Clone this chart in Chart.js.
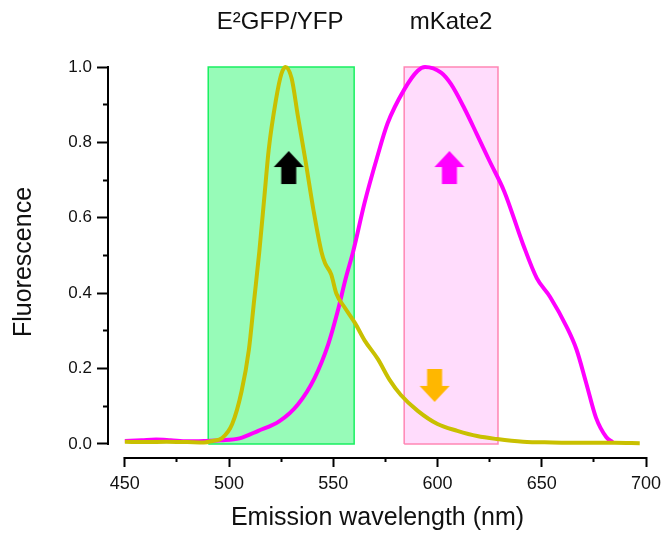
<!DOCTYPE html>
<html>
<head>
<meta charset="utf-8">
<script src="https://cdn.jsdelivr.net/npm/chart.js@4/dist/chart.umd.min.js"></script>
<style>
html,body{margin:0;padding:0;background:#fff;}
#wrap{width:663px;height:536px;position:relative;}
</style>
</head>
<body>
<div id="wrap"><canvas id="c" width="663" height="536"></canvas></div>
<script>
// ---- data ----
const yfpWavelength = [450,460,470,480,488,492,496.7,501.5,506,509.5,512,514.5,517,519,522.4,525,527,530,533,536.7,540.5,544.3,546,549,551.4,555.7,560.5,565,571.4,577,582.4,590.5,600,609.5,619,628.6,641,655,670,685,697];
const yfpValues     = [0.006,0.005,0.006,0.005,0.004,0.008,0.016,0.053,0.14,0.25,0.38,0.51,0.66,0.78,0.91,0.98,1.0,0.97,0.87,0.75,0.62,0.51,0.48,0.45,0.40,0.36,0.32,0.275,0.225,0.17,0.13,0.088,0.053,0.035,0.021,0.013,0.006,0.004,0.003,0.003,0.002];

const mkateWavelength = [450,458,465,472,480,488,496,505,514,524,533,541,547.6,552,556,559.5,565,571,576,584,590.5,594,601.7,606.4,612.9,619,625,632,641,647.6,654,662,666.7,671.4,676,681,684];
const mkateValues     = [0.008,0.01,0.012,0.01,0.007,0.008,0.01,0.015,0.035,0.06,0.105,0.175,0.265,0.35,0.44,0.51,0.64,0.76,0.85,0.94,0.99,1.0,0.985,0.955,0.89,0.82,0.75,0.67,0.53,0.44,0.39,0.31,0.25,0.16,0.07,0.018,0.005];

// filter bands (nm)
const greenBand = [490, 560];
const pinkBand  = [584, 629];

// arrow markers [wavelength, fluorescence]
const blackArrow   = [528.6, 0.732];
const magentaArrow = [605.7, 0.732];
const orangeArrow  = [598.6, 0.154];

const topLabels = [
  {text: 'E\u00B2GFP/YFP', x: 524.5},
  {text: 'mKate2', x: 606.5}
];

const xTickValues = [450,475,500,525,550,575,600,625,650,675,700];
const yTickValues = [0,0.1,0.2,0.3,0.4,0.5,0.6,0.7,0.8,0.9,1.0];

// ---- helpers ----
function toXY(xs, ys){ return xs.map((x,i)=>({x:x, y:ys[i]})); }
function bandOutline(b){ return [{x:b[0],y:0},{x:b[0],y:1},{x:b[1],y:1},{x:b[1],y:0},{x:b[0],y:0}]; }
function bandTop(b){ return [{x:b[0],y:1},{x:b[1],y:1}]; }

function arrowCanvas(color, up){
  const c = document.createElement('canvas');
  c.width = 32; c.height = 34;
  const g = c.getContext('2d');
  g.fillStyle = color;
  g.beginPath();
  if (up){
    g.moveTo(16,0); g.lineTo(31,16); g.lineTo(23.5,16); g.lineTo(23.5,33);
    g.lineTo(8.5,33); g.lineTo(8.5,16); g.lineTo(1,16);
  } else {
    g.moveTo(16,33); g.lineTo(31,17); g.lineTo(23.5,17); g.lineTo(23.5,0);
    g.lineTo(8.5,0); g.lineTo(8.5,17); g.lineTo(1,17);
  }
  g.closePath(); g.fill();
  return c;
}

const FONT = "'Liberation Sans', Arial, sans-serif";

const axisLinesPlugin = {
  id: 'axisLines',
  afterDraw(chart){
    const {ctx, chartArea, scales:{x, y}} = chart;
    ctx.save();
    ctx.strokeStyle = '#000';
    ctx.lineWidth = 2;
    ctx.lineCap = 'square';
    ctx.beginPath();
    ctx.moveTo(x.getPixelForValue(xTickValues[0]), chartArea.bottom + 1);
    ctx.lineTo(x.getPixelForValue(xTickValues[xTickValues.length-1]), chartArea.bottom + 1);
    ctx.moveTo(chartArea.left - 1, y.getPixelForValue(yTickValues[0]));
    ctx.lineTo(chartArea.left - 1, y.getPixelForValue(yTickValues[yTickValues.length-1]));
    ctx.stroke();
    // top labels
    ctx.fillStyle = '#111';
    ctx.font = '24px ' + FONT;
    ctx.textAlign = 'center';
    ctx.textBaseline = 'middle';
    topLabels.forEach(l => ctx.fillText(l.text, x.getPixelForValue(l.x), 22));
    ctx.restore();
  }
};

const noPadding = () => ({left:0, right:0, top:0, bottom:0});

new Chart(document.getElementById('c'), {
  type: 'line',
  data: {
    datasets: [
      {label:'arrowBlack', type:'scatter', data:[{x:blackArrow[0],y:blackArrow[1]}], pointStyle: arrowCanvas('#000', true), pointRadius: 16, order: 0},
      {label:'arrowMagenta', type:'scatter', data:[{x:magentaArrow[0],y:magentaArrow[1]}], pointStyle: arrowCanvas('#ff00ff', true), pointRadius: 16, order: 0},
      {label:'arrowOrange', type:'scatter', data:[{x:orangeArrow[0],y:orangeArrow[1]}], pointStyle: arrowCanvas('#ffb700', false), pointRadius: 16, order: 0},
      {label:'E2GFP/YFP', data: toXY(yfpWavelength, yfpValues), borderColor:'#c9c000', borderWidth:4, pointRadius:0, tension:0.4, cubicInterpolationMode:'monotone', fill:false, clip:6, order: 1},
      {label:'mKate2', data: toXY(mkateWavelength, mkateValues), borderColor:'#ff00ff', borderWidth:4, pointRadius:0, tension:0.4, cubicInterpolationMode:'monotone', fill:false, clip:6, order: 2},
      {label:'greenBandEdge', data: bandOutline(greenBand), borderColor:'#18f060', borderWidth:1.5, pointRadius:0, tension:0, fill:false, clip:4, order: 3},
      {label:'pinkBandEdge', data: bandOutline(pinkBand), borderColor:'#ff86b4', borderWidth:1.5, pointRadius:0, tension:0, fill:false, clip:4, order: 3},
      {label:'greenBand', data: bandTop(greenBand), borderWidth:0, borderColor:'rgba(0,0,0,0)', backgroundColor:'#97fbb8', pointRadius:0, tension:0, fill:'origin', order: 4},
      {label:'pinkBand', data: bandTop(pinkBand), borderWidth:0, borderColor:'rgba(0,0,0,0)', backgroundColor:'#ffdcfc', pointRadius:0, tension:0, fill:'origin', order: 4}
    ]
  },
  options: {
    responsive: false,
    animation: false,
    layout: { padding: {left:0, right:13, top:67, bottom:0} },
    plugins: { legend:{display:false}, tooltip:{enabled:false}, title:{display:false} },
    scales: {
      x: {
        type: 'linear',
        min: 442.4, max: 700,
        afterBuildTicks: s => { s.ticks = xTickValues.map(v => ({value:v})); },
        afterFit: s => {
          s.height = 79; s.paddingLeft = 0; s.paddingRight = 0;
          s.getPadding = noPadding;
        },
        border: {display:false},
        grid: {
          drawOnChartArea:false, drawTicks:true, tickLength:10, tickWidth:2, tickColor:'#000',
          tickBorderDash: ctx => (ctx.tick && ctx.tick.value % 50 !== 0) ? [5,100] : []
        },
        ticks: {
          autoSkip:false, maxRotation:0, padding:6, color:'#111',
          font:{family:FONT, size:18},
          callback: v => (v % 50 === 0 ? String(v) : '')
        },
        title: {display:true, text:'Emission wavelength (nm)', color:'#111', font:{family:FONT, size:25}, padding:{top:0,bottom:3}}
      },
      y: {
        type: 'linear',
        min: -0.0345, max: 1.0,
        afterBuildTicks: s => { s.ticks = yTickValues.map(v => ({value:v})); },
        afterFit: s => { s.width = 109; s.paddingTop = 0; s.paddingBottom = 0; s.getPadding = noPadding; },
        border: {display:false},
        grid: {
          drawOnChartArea:false, drawTicks:true, tickLength:12, tickWidth:2, tickColor:'#000',
          tickBorderDash: ctx => (ctx.tick && Math.round(ctx.tick.value*10) % 2 !== 0) ? [0,6,6,100] : []
        },
        ticks: {
          autoSkip:false, padding:5, color:'#111',
          font:{family:FONT, size:17},
          callback: v => (Math.round(v*10) % 2 === 0 ? v.toFixed(1) : '')
        },
        title: {display:true, text:'Fluorescence', color:'#111', font:{family:FONT, size:25}, padding:{top:9,bottom:0}}
      }
    }
  },
  plugins: [axisLinesPlugin]
});
</script>
</body>
</html>
